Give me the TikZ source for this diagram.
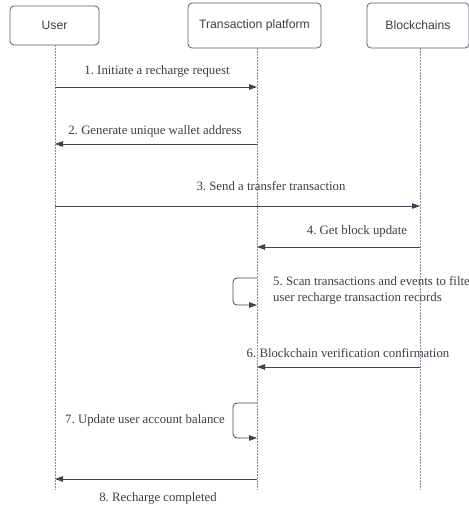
\documentclass[tikz,border=0pt]{standalone}
\usepackage{fontspec}
\setmainfont{Liberation Serif}
\setsansfont{Liberation Sans}
\usetikzlibrary{arrows.meta}
\frenchspacing
\definecolor{lnc}{HTML}{3F4550}
\definecolor{txc}{HTML}{3A3F48}
\definecolor{boxc}{HTML}{5A5F66}
\definecolor{lifec}{HTML}{8A8E94}
\tikzset{
  actor/.style={draw=boxc, line width=0.8pt, rounded corners=4pt, fill=white, font=\sffamily\fontsize{12.2}{14}\selectfont, text=txc, align=center},
  life/.style={draw=lifec, line width=0.6pt, dash pattern=on 1.5pt off 1.5pt},
  msg/.style={draw=lnc, line width=0.8pt, -{Triangle[length=8pt,width=5.5pt]}},
  lbl/.style={font=\fontsize{12.8}{16}\selectfont, text=txc, inner sep=0pt},
  loopmsg/.style={msg, rounded corners=4pt}
}
\begin{document}
\begin{tikzpicture}[x=1pt,y=-1pt]
\useasboundingbox (0,0) rectangle (468,508);
\fill[white] (0,0) rectangle (468,508);
% actors
\node[actor, minimum width=89pt, minimum height=39pt] (u) at (54.5,25.5) {User};
\node[actor, minimum width=133pt, minimum height=45pt] (t) at (254.5,25.5) {Transaction platform};
\node[actor, minimum width=102pt, minimum height=45pt] (b) at (418,25.5) {Blockchains};
% lifeline ends
\coordinate (ue) at (55,490);
\coordinate (te) at (257,490);
\coordinate (be) at (420,490);
\draw[life] (u.south -| ue) -- (ue);
\draw[life] (t.south -| te) -- (te);
\draw[life] (b.south -| be) -- (be);
% message anchors
\coordinate (u1) at (55,87);   \coordinate (t1) at (257,87);
\coordinate (u2) at (55,144);  \coordinate (t2) at (257,144);
\coordinate (u3) at (55,206);  \coordinate (b3) at (420,206);
\coordinate (t4) at (257,247); \coordinate (b4) at (420,247);
\coordinate (t5a) at (257,278); \coordinate (t5b) at (257,305);
\coordinate (t6) at (257,367); \coordinate (b6) at (420,367);
\coordinate (t7a) at (257,403); \coordinate (t7b) at (257,438);
\coordinate (u8) at (55,479);  \coordinate (t8) at (257,479);
% messages
\draw[msg] (u1) -- (t1);
\node[lbl] (l1) at (157,71) {1. Initiate a recharge request};
\draw[msg] (t2) -- (u2);
\node[lbl] (l2) at (155,131) {2. Generate unique wallet address};
\draw[msg] (u3) -- (b3);
\node[lbl] (l3) at (271,186) {3. Send a transfer transaction};
\draw[msg] (b4) -- (t4);
\node[lbl] (l4) at (357,231) {4. Get block update};
\draw[loopmsg] (t5a) -- ++(-24,0) |- (t5b);
\node[lbl, anchor=west, align=left] (l5) at (273,290) {5. Scan transactions and events to filter\\user recharge transaction records};
\draw[msg] (b6) -- (t6);
\node[lbl] (l6) at (348,353) {6. Blockchain verification confirmation};
\draw[loopmsg] (t7a) -- ++(-24,0) |- (t7b);
\node[lbl, anchor=east] (l7) at (225,420) {7. Update user account balance};
\draw[msg] (t8) -- (u8);
\node[lbl] (l8) at (158,498) {8. Recharge completed};
\end{tikzpicture}
\end{document}
